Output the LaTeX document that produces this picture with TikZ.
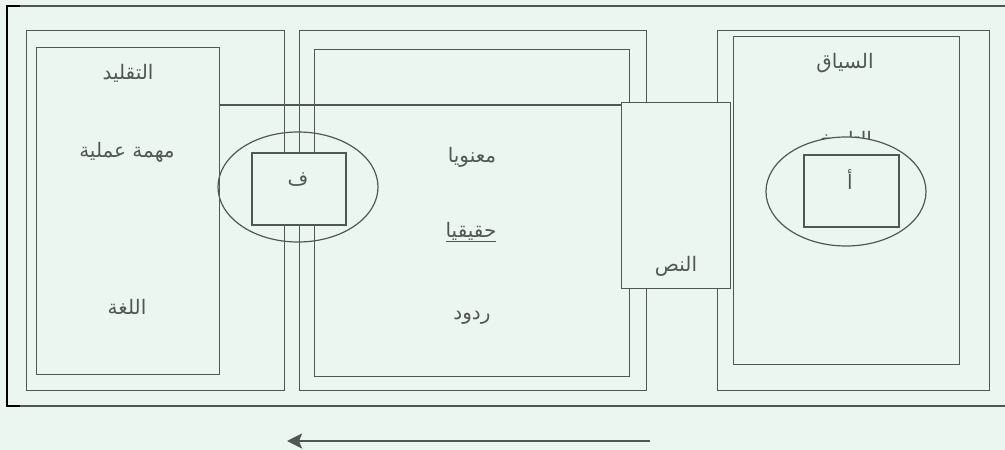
\documentclass[tikz,border=0pt]{standalone}
\usepackage{fontspec}
\usetikzlibrary{arrows.meta, shapes.geometric}
\TeXXeTstate=1
\newfontfamily\arabicfont[Script=Arabic]{DejaVu Sans}
\definecolor{linegray}{RGB}{80,88,84}
\definecolor{paper}{RGB}{236,246,240}
\tikzset{
  panel/.style={draw=linegray, line width=1.2pt, rectangle, inner sep=0pt, anchor=north west},
  oval/.style={draw=linegray, line width=1.2pt, ellipse, inner sep=0pt},
  word/.style={text=linegray, inner sep=1pt, font=\arabicfont\fontsize{20}{24}\selectfont}
}

\begin{document}
\begin{tikzpicture}[x=1pt, y=-1pt]

\fill[paper] (0,0) rectangle (1005,450);
\useasboundingbox (0,0) rectangle (1005,450);

% page frame
\coordinate (frameTL) at (7,6);
\coordinate (frameBL) at (7,406);
\coordinate (frameTR) at (1005,6);
\coordinate (frameBR) at (1005,406);
\draw[linegray, line width=1.2pt] (frameTL) -- (frameTR);
\draw[linegray, line width=1.2pt] (frameBL) -- (frameBR);
\draw[black, line width=1.6pt] ([xshift=13pt]frameTL) -- (frameTL) -- (frameBL) -- ([xshift=13pt]frameBL);

% panels
\node[panel, minimum width=258pt, minimum height=360pt] (leftout) at (26,30) {};
\node[panel, minimum width=183pt, minimum height=327pt] (leftin) at (36,47) {};
\node[panel, minimum width=347pt, minimum height=360pt] (midout) at (299,30) {};
\node[panel, minimum width=315pt, minimum height=327pt] (midin) at (314,49) {};
\node[panel, minimum width=272pt, minimum height=360pt] (rightout) at (717,30) {};
\node[panel, minimum width=226pt, minimum height=328pt] (rightin) at (733,36) {};

\coordinate (linkrow) at (0,105);
\node[panel, fill=paper, minimum width=109pt, minimum height=186pt] (nass) at (621,102) {};
\draw[linegray, line width=1.2pt] (leftin.east |- linkrow) -- (nass.west |- linkrow);

\node[oval, minimum width=160pt, minimum height=110pt] (faaoval) at (298,187) {};
\node[panel, fill=paper, line width=1.6pt, minimum width=94pt, minimum height=72pt] (faabox) at (251,152) {};

\node[word] (taqlid) at (128,73) {\beginR التقليد\endR};
\node[word] (mahamma) at (127,152) {\beginR مهمة عملية\endR};
\node[word] (lugha) at (127,307) {\beginR اللغة\endR};
\node[word] (faa) at (298,180) {\beginR ف\endR};

\node[word] (manawi) at (472,157) {\beginR معنويا\endR};
\node[word] (haqiqi) at (471,232) {\underline{\beginR حقيقيا\endR}};
\node[word] (rudud) at (472,318) {\beginR ردود\endR};
\node[word] (nasstext) at (676,266) {\beginR النص\endR};

\node[word] (siyaq) at (845,63) {\beginR السياق\endR};
\node[word, anchor=base] (tarikh) at (846,146) {\beginR التاريخ\endR};
\node[oval, fill=paper, minimum width=160pt, minimum height=109pt] (alifoval) at (846,191.5) {};
\node[panel, line width=1.6pt, minimum width=95pt, minimum height=72pt] (alifbox) at (803,154) {};
\node[word] (alif) at (850,180) {\beginR أ\endR};

% reading direction
\coordinate (arrowfrom) at (650,441);
\coordinate (arrowto) at (287,441);
\draw[-{Stealth[length=15pt, width=15pt, inset=3pt]}, linegray, line width=2.6pt] (arrowfrom) -- (arrowto);

\end{tikzpicture}
\end{document}
